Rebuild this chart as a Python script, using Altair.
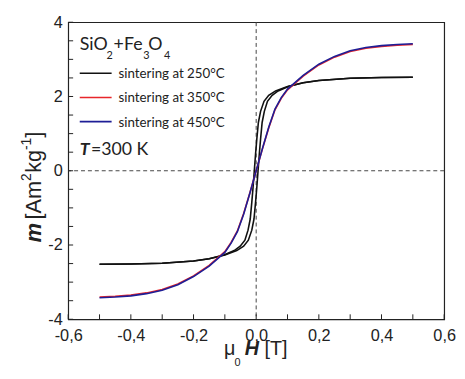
import altair as alt
import pandas as pd

# ---- data ----
# 250 C sample: hysteresis loop, ascending branch (from -0.5 T up to +0.5 T)
H250_up = [-0.5, -0.4, -0.3, -0.2, -0.15, -0.1, -0.062, -0.04, -0.025, -0.014, -0.007, -0.002,
           0.002, 0.006, 0.010, 0.014, 0.019, 0.026, 0.036, 0.051, 0.07, 0.103, 0.15, 0.2, 0.3, 0.4, 0.5]
M250_up = [-2.52, -2.51, -2.49, -2.43, -2.37, -2.27, -2.15, -2.03, -1.87, -1.6, -1.3, -0.85,
           -0.45, 0.0, 0.45, 0.85, 1.3, 1.6, 1.87, 2.03, 2.15, 2.27, 2.37, 2.43, 2.49, 2.51, 2.52]
# descending branch (from +0.5 T down to -0.5 T)
H250_down = [0.5, 0.4, 0.3, 0.2, 0.15, 0.1, 0.062, 0.04, 0.025, 0.014, 0.007, 0.002,
             -0.002, -0.006, -0.010, -0.014, -0.019, -0.026, -0.036, -0.051, -0.07, -0.103, -0.15, -0.2, -0.3, -0.4, -0.5]
M250_down = [2.52, 2.51, 2.49, 2.43, 2.37, 2.27, 2.15, 2.03, 1.87, 1.6, 1.3, 0.85,
             0.45, 0.0, -0.45, -0.85, -1.3, -1.6, -1.87, -2.03, -2.15, -2.27, -2.37, -2.43, -2.49, -2.51, -2.52]

H350 = [-0.5, -0.45, -0.4, -0.35, -0.3, -0.25, -0.2, -0.15, -0.1, -0.08, -0.06, -0.04, -0.02, 0.0,
        0.02, 0.04, 0.06, 0.08, 0.1, 0.15, 0.2, 0.25, 0.3, 0.35, 0.4, 0.45, 0.5]
M350 = [-3.40, -3.38, -3.35, -3.29, -3.20, -3.05, -2.83, -2.55, -2.18, -1.93, -1.62, -1.15, -0.59, 0.0,
        0.59, 1.15, 1.64, 1.95, 2.18, 2.55, 2.85, 3.06, 3.21, 3.30, 3.35, 3.38, 3.40]

H450 = [-0.5, -0.45, -0.4, -0.35, -0.3, -0.25, -0.2, -0.15, -0.1, -0.08, -0.06, -0.04, -0.02, 0.0,
        0.02, 0.04, 0.06, 0.08, 0.1, 0.15, 0.2, 0.25, 0.3, 0.35, 0.4, 0.45, 0.5]
M450 = [-3.42, -3.40, -3.37, -3.31, -3.22, -3.07, -2.85, -2.57, -2.20, -1.95, -1.64, -1.17, -0.60, 0.0,
        0.60, 1.17, 1.66, 1.97, 2.20, 2.57, 2.87, 3.08, 3.23, 3.32, 3.37, 3.40, 3.42]

series_names = ["sintering at 250°C", "sintering at 350°C", "sintering at 450°C"]
series_colors = ["#111111", "#e8262b", "#1e1e96"]

x_tick_values = [-0.6, -0.5, -0.4, -0.3, -0.2, -0.1, 0.0, 0.1, 0.2, 0.3, 0.4, 0.5, 0.6]
y_tick_values = [-4, -3.5, -3, -2.5, -2, -1.5, -1, -0.5, 0, 0.5, 1, 1.5, 2, 2.5, 3, 3.5, 4]
x_label_values = [-0.6, -0.4, -0.2, 0.0, 0.2, 0.4, 0.6]
y_label_values = [-4, -2, 0, 2, 4]

# ---- build table ----
rows = []
def add(series, branch, hs, ms):
    for i, (h, m) in enumerate(zip(hs, ms)):
        rows.append({"series": series, "branch": branch, "idx": i, "H": h, "M": m})

add(series_names[0], "up", H250_up, M250_up)
add(series_names[0], "down", H250_down, M250_down)
add(series_names[1], "a", H350, M350)
add(series_names[2], "a", H450, M450)
df = pd.DataFrame(rows)

W, Hh = 381, 301
AXFONT = "Liberation Sans"
LEGFONT = "Lato"

xs = alt.Scale(domain=[-0.6, 0.6], nice=False, zero=False)
ys = alt.Scale(domain=[-4, 4], nice=False, zero=False)

x_axis = alt.Axis(values=x_label_values, title=None, ticks=False, domain=False, grid=False,
                  labelFont=AXFONT, labelFontSize=16.5, labelColor="#222", labelPadding=9,
                  labelFlush=False, labelOverlap=False,
                  labelExpr="replace(replace(format(datum.value, '.1f'), '.', ','), '−', '-')")
y_axis = alt.Axis(values=y_label_values, title=None, ticks=False, domain=False, grid=False,
                  labelFont=AXFONT, labelFontSize=16.5, labelColor="#222", labelPadding=6,
                  labelFlush=False, labelOverlap=False,
                  labelExpr="replace(format(datum.value, 'd'), '−', '-')")

X = lambda: alt.X("H:Q", scale=xs, axis=x_axis)
Y = lambda: alt.Y("M:Q", scale=ys, axis=y_axis)

xticks = alt.Chart(pd.DataFrame({"H": x_tick_values})).mark_rule(color="#222", strokeWidth=1).encode(
    x=X(), y=alt.value(Hh), y2=alt.value(Hh - 5))
yticks = alt.Chart(pd.DataFrame({"M": y_tick_values})).mark_rule(color="#222", strokeWidth=1).encode(
    y=Y(), x=alt.value(0), x2=alt.value(5))

zero_h = alt.Chart(pd.DataFrame({"M": [0]})).mark_rule(color="#444", strokeWidth=1, strokeDash=[4, 3]).encode(y=Y())
zero_v = alt.Chart(pd.DataFrame({"H": [0]})).mark_rule(color="#444", strokeWidth=1, strokeDash=[4, 3]).encode(x=X())

lines = alt.Chart(df).mark_line(strokeWidth=1.6).encode(
    x=X(), y=Y(),
    color=alt.Color("series:N", scale=alt.Scale(domain=series_names, range=series_colors), legend=None),
    detail="branch:N",
    order="idx:Q",
)

dummy = pd.DataFrame({"a": [0]})
def txt(text, x, y, size, font=AXFONT, style="normal", weight="normal", align="left",
        baseline="alphabetic", angle=0, color="#222"):
    return alt.Chart(dummy).mark_text(text=text, font=font, fontSize=size, fontStyle=style, fontWeight=weight,
                                      align=align, baseline=baseline, angle=angle, color=color).encode(
        x=alt.value(x), y=alt.value(y))

layers = [zero_h, zero_v, xticks, yticks, lines]

# legend (manual, inside plot): SiO2+Fe3O4 with real subscripts
layers += [
    txt("SiO", 11.7, 28, 18, font=LEGFONT),
    txt("2", 38.7, 37, 11, font=LEGFONT),
    txt("+Fe", 46, 28, 18, font=LEGFONT),
    txt("3", 76, 37, 11, font=LEGFONT),
    txt("O", 81, 28, 18, font=LEGFONT),
    txt("4", 97, 37, 11, font=LEGFONT),
]
for i, (name, col) in enumerate(zip(series_names, series_colors)):
    yy = 51.7 + i * 24.5
    layers.append(alt.Chart(dummy).mark_rule(color=col, strokeWidth=1.6).encode(
        x=alt.value(11.7), x2=alt.value(44), y=alt.value(yy)))
    layers.append(txt(name, 51, yy + 1, 13.5, font=LEGFONT, baseline="middle"))
layers.append(txt("T", 11.7, 135, 18, font=LEGFONT, style="italic", weight="bold"))
layers.append(txt("=300 K", 23, 135, 18, font=LEGFONT))

# y axis title: m [Am^2 kg^-1]  (rotated, pieces for real superscripts)
YC = -35
layers += [
    txt("m", YC, 223, 22, style="italic", weight="bold", angle=270, baseline="middle"),
    txt("[Am", YC, 200, 22, angle=270, baseline="middle"),
    txt("2", YC - 7, 161, 14, angle=270, baseline="middle"),
    txt("kg", YC, 152.5, 22, angle=270, baseline="middle"),
    txt("-1", YC - 7, 129.5, 14, angle=270, baseline="middle"),
    txt("]", YC, 117, 22, angle=270, baseline="middle"),
]
# x axis title: mu_0 H [T]
layers += [
    txt("μ", 158, 337, 20),
    txt("0", 168.5, 348, 11),
    txt("H", 179, 337, 20, style="italic", weight="bold"),
    txt("[T]", 199, 337, 20),
]

chart = alt.layer(*layers).properties(
    width=W, height=Hh,
    autosize=alt.AutoSizeParams(type="none"),
    padding={"left": 61, "top": 12, "right": 13, "bottom": 50},
).configure_view(stroke="#222", strokeWidth=1.2)

chart.save("out.html", embed_options={"renderer": "svg", "actions": False})
